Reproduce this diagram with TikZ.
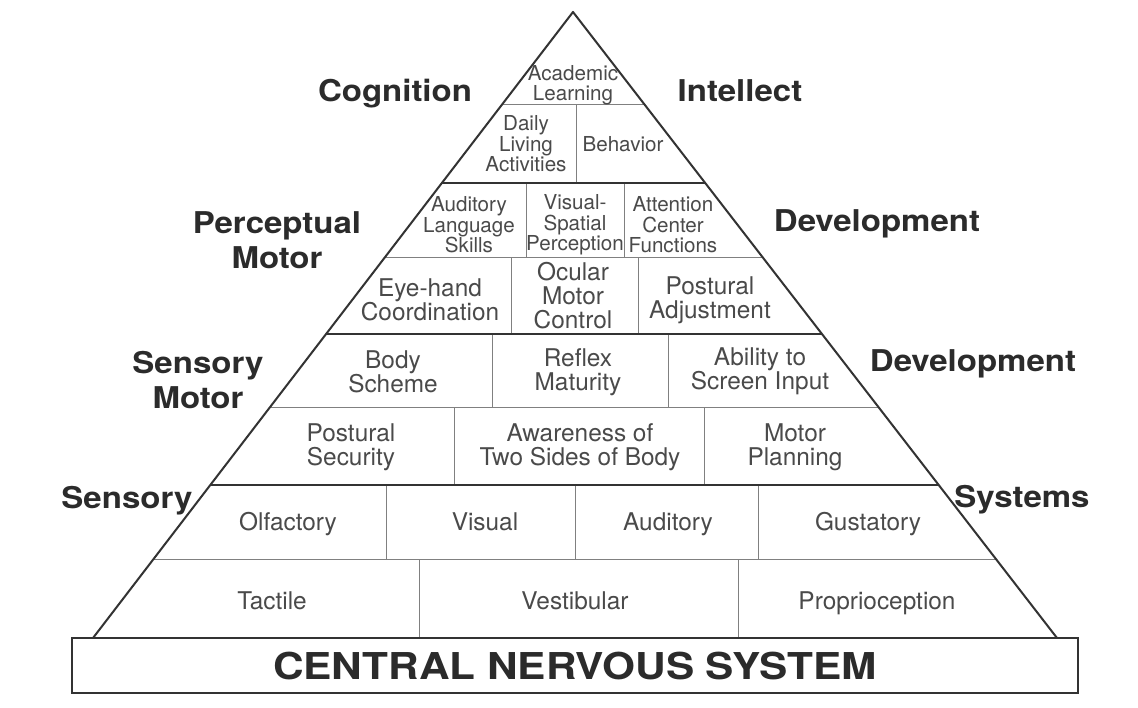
\documentclass[tikz,border=0pt]{standalone}
\usepackage{fontspec}
\setmainfont{TeX Gyre Heros}
\newfontfamily\labfont{TeX Gyre Heros}[FakeStretch=1.1]
\newfontfamily\cnsfont{TeX Gyre Heros}[FakeStretch=1.145]
\usetikzlibrary{calc}
\definecolor{cell}{HTML}{4A4A4A}
\definecolor{lab}{HTML}{2B2B2B}
\definecolor{edge}{HTML}{333333}
\definecolor{thinc}{HTML}{808080}
\begin{document}
\begin{tikzpicture}[x=1pt,y=-1pt,
  small/.style={align=center,text=cell,font=\fontsize{20.6}{20.5}\selectfont,inner sep=0pt},
  big/.style={align=center,text=cell,font=\fontsize{24.4}{24}\selectfont,inner sep=0pt},
  lbl/.style={align=center,text=lab,font=\labfont\bfseries\fontsize{30}{35}\selectfont,inner sep=0pt},
  one/.style={text height=0.72em,text depth=0.2em},
  outline/.style={draw=edge,line width=2pt,line join=round},
  thickdiv/.style={draw=edge,line width=2.6pt},
  thindiv/.style={draw=thinc,line width=1pt}]
\fill[white] (0,0) rectangle (1138,708);
\useasboundingbox (0,0) rectangle (1138,708);
% pyramid corners
\coordinate (A) at (573,12);
\coordinate (BL) at (93,638);
\coordinate (BR) at (1057,638);
% row boundaries on the edges
\foreach \n/\y in {1/105,2/183,3/258,4/334,5/408,6/485,7/560}{
  \coordinate (L\n) at ($(A)!{(\y-12)/626}!(BL)$);
  \coordinate (R\n) at ($(A)!{(\y-12)/626}!(BR)$);
}
% thin horizontal lines
\foreach \n in {1,3,5,7}{\draw[thindiv] (L\n) -- (R\n);}
% vertical dividers
\draw[thindiv] (576,105) -- (576,183);
\draw[thindiv] (526,183) -- (526,258) (624,183) -- (624,258);
\draw[thindiv] (511,258) -- (511,334) (638,258) -- (638,334);
\draw[thindiv] (492,334) -- (492,408) (668,334) -- (668,408);
\draw[thindiv] (454,408) -- (454,485) (704,408) -- (704,485);
\draw[thindiv] (386,485) -- (386,560) (575,485) -- (575,560) (758,485) -- (758,560);
\draw[thindiv] (419,560) -- (419,638) (738,560) -- (738,638);
% thick horizontal lines
\foreach \n in {2,4,6}{\draw[thickdiv] (L\n) -- (R\n);}
% outline
\draw[outline] (BL) -- (A) -- (BR);
\draw[draw=edge,line width=1.6pt] (72,638) rectangle (1078,693);
% cell texts
\node[small] (acad) at (573,85) {Academic\\Learning};
\node[small] (daily) at (526,144) {Daily\\Living\\Activities};
\node[small,one] (beh) at (623,149) {Behavior};
\node[small] (aud) at (469,225) {Auditory\\Language\\Skills};
\node[small] (vis) at (575,225) {Visual-\\Spatial\\Perception};
\node[small] (att) at (673,225) {Attention\\Center\\Functions};
\node[big] (eye) at (430,300) {Eye-hand\\Coordination};
\node[big] (ocu) at (573,296) {Ocular\\Motor\\Control};
\node[big] (pad) at (710,300) {Postural\\Adjustment};
\node[big] (body) at (393,372) {Body\\Scheme};
\node[big] (refl) at (578,372) {Reflex\\Maturity};
\node[big] (abil) at (760,371) {Ability to\\Screen Input};
\node[big] (psec) at (351,447) {Postural\\Security};
\node[big] (awar) at (580,447) {Awareness of\\Two Sides of Body};
\node[big] (mplan) at (795,447) {Motor\\Planning};
\node[big,one] (olf) at (288,528) {Olfactory};
\node[big,one] (visu) at (485,528) {Visual};
\node[big,one] (audi) at (668,528) {Auditory};
\node[big,one] (gust) at (868,528) {Gustatory};
\node[big,one] (tact) at (272,607) {Tactile};
\node[big,one] (vest) at (575,607) {Vestibular};
\node[big,one] (prop) at (877,607) {Proprioception};
\node[inner sep=0pt,text=lab,font=\cnsfont\bfseries\fontsize{37}{40}\selectfont] (cns) at (575,666) {CENTRAL NERVOUS SYSTEM};
% side labels
\node[lbl,one] (cog) at (395,99) {Cognition};
\node[lbl,one] (int) at (740,99) {Intellect};
\node[lbl] (pm) at (277,240) {Perceptual\\Motor};
\node[lbl,one] (dev1) at (877,229) {Development};
\node[lbl] (sm) at (198,380) {Sensory\\Motor};
\node[lbl,one] (dev2) at (973,369) {Development};
\node[lbl,one] (sens) at (127,506) {Sensory};
\node[lbl,one] (sys) at (1022,505) {Systems};
\end{tikzpicture}
\end{document}
